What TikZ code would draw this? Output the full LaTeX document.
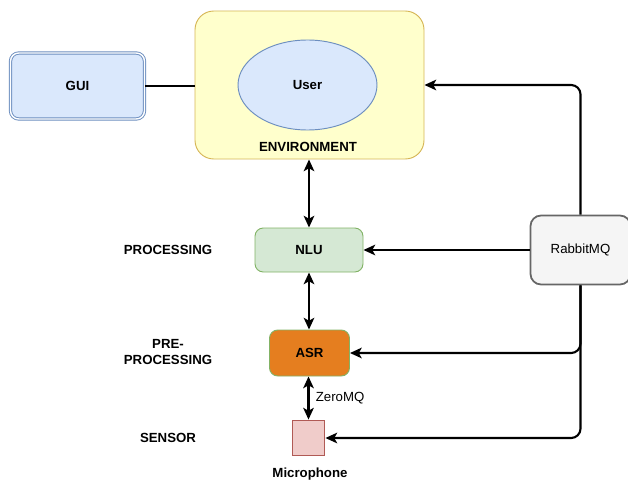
\documentclass[tikz,border=0pt]{standalone}
\usepackage{fontspec}
\setmainfont{Liberation Sans}
\usetikzlibrary{arrows.meta,shapes.geometric}

\definecolor{guiFill}{HTML}{DAE8FC}
\definecolor{guiLine}{HTML}{6C8EBF}
\definecolor{envFill}{HTML}{FFFFCC}
\definecolor{envLine}{HTML}{D6B656}
\definecolor{nluFill}{HTML}{D5E8D4}
\definecolor{nluLine}{HTML}{82B366}
\definecolor{asrFill}{HTML}{E57E1F}
\definecolor{micFill}{HTML}{F0CCCA}
\definecolor{micLine}{HTML}{B05A55}
\definecolor{mqFill}{HTML}{F5F5F5}
\definecolor{mqLine}{HTML}{666666}

\tikzset{
	box/.style={draw, rounded corners=7pt, line width=0.8pt, inner sep=0pt,
		font=\fontsize{11.3}{13.5}\selectfont\bfseries},
	lbl/.style={font=\fontsize{11.3}{13.5}\selectfont\bfseries, align=center},
	link/.style={line width=1.8pt},
	flow/.style={link, -{Stealth[length=10pt,width=9pt,inset=2.5pt]}},
	both/.style={link, {Stealth[length=10pt,width=9pt,inset=2.5pt]}-{Stealth[length=10pt,width=9pt,inset=2.5pt]}}
}

\begin{document}
\begin{tikzpicture}[x=0.03cm, y=-0.03cm]
	%%%%% START %%%%%
	\useasboundingbox (0,0) rectangle (628,481);
	
	% environment with the user inside
	\node[box, fill=envFill, draw=envLine, rounded corners=16pt,
		minimum width=229*0.03cm, minimum height=148*0.03cm] (env) at (309.5,85) {};
	\node[draw=guiLine, fill=guiFill, ellipse, line width=0.8pt,
		minimum width=139*0.03cm, minimum height=90*0.03cm,
		font=\fontsize{11.3}{13.5}\selectfont\bfseries] (user) at (307.5,85) {User};
	\node[lbl] (envlbl) at (308,147) {ENVIRONMENT};
	
	% gui
	\node[box, fill=guiFill, draw=guiLine, double, double distance=1.2pt,
		minimum width=134*0.03cm, minimum height=66*0.03cm] (gui) at (77.5,86) {GUI};
	\draw[link] (gui.east) -- (gui.east -| env.west);
	
	% processing chain
	\node[box, fill=nluFill, draw=nluLine,
		minimum width=108*0.03cm, minimum height=44*0.03cm] (nlu) at (309,250) {NLU};
	\node[box, fill=asrFill, draw=nluLine,
		minimum width=80*0.03cm, minimum height=46*0.03cm] (asr) at (309.5,353) {ASR};
	\node[draw=micLine, fill=micFill, line width=1.6pt, inner sep=0pt,
		minimum width=32*0.03cm, minimum height=35*0.03cm] (mic) at (308.5,438) {};
	\node[lbl] (miclbl) at (310,474) {Microphone};
	
	% layer names
	\node[lbl] (proc) at (168,250) {PROCESSING};
	\node[lbl] (preproc) at (168,352) {PRE-\\PROCESSING};
	\node[lbl] (sensor) at (168,438) {SENSOR};
	
	% message broker
	\node[draw=mqLine, fill=mqFill, rounded corners=9pt, line width=1.5pt,
		minimum width=100*0.03cm, minimum height=69*0.03cm,
		font=\fontsize{11.3}{13.5}\selectfont] (mq) at (580.5,250) {RabbitMQ};
	
	\draw[both] (env.south -| nlu.north) -- (nlu.north);
	\draw[both] (nlu.south) -- (nlu.south |- asr.north);
	\draw[both] (asr.south -| mic.north) -- (mic.north)
		node[midway, right=2pt, font=\fontsize{11.3}{13.5}\selectfont] (zmq) {ZeroMQ};
	
	\draw[flow, rounded corners=8pt] (mq.north) |- (env.east);
	\draw[flow] (mq.west) -- (nlu.east);
	\draw[flow, rounded corners=8pt] (mq.south) |- (asr.east);
	\draw[flow, rounded corners=8pt] (mq.south) |- (mic.east);
	
	%%%%% END %%%%%
\end{tikzpicture}
\end{document}
